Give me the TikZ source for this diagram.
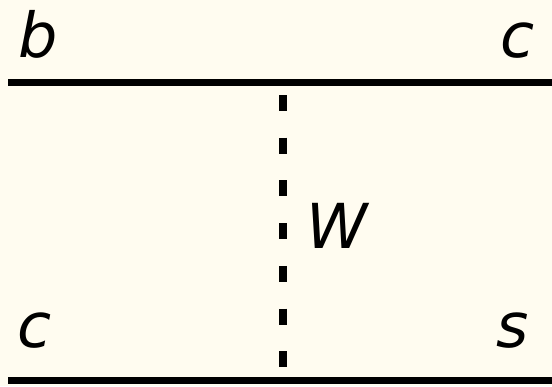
\documentclass[tikz,border=0pt]{standalone}
\usepackage{fontspec}
\newfontfamily\lblfont{DejaVu Sans}
\definecolor{paper}{HTML}{FFFCF0}
\begin{document}
\begin{tikzpicture}[x=1pt,y=-1pt,
  lbl/.style={inner sep=0pt,anchor=base,font=\lblfont\itshape\fontsize{62}{62}\selectfont},
  quark/.style={line width=7pt},
  boson/.style={line width=8pt,dash pattern=on 16pt off 26.7pt,dash phase=33.7pt}]
\fill[paper] (0,0) rectangle (552,386);
\useasboundingbox (0,0) rectangle (552,386);
% quark lines
\coordinate (tl) at (8,82.5);\coordinate (tr) at (552,82.5);
\coordinate (bl) at (8,380.5);\coordinate (br) at (552,380.5);
\draw[quark] (tl)--(tr);
\draw[quark] (bl)--(br);
% W exchange
\coordinate (wt) at (283,86);\coordinate (wb) at (283,377);
\draw[boson] (wt)--(wb);
% labels
\node[lbl] (b) at (38.5,57) {b};\node[lbl] (c1) at (517.5,57) {c};
\node[lbl] (c2) at (34.5,347) {c};\node[lbl] (s) at (512.5,347) {s};
\node[lbl] (w) at (337,248) {W};
\end{tikzpicture}
\end{document}
